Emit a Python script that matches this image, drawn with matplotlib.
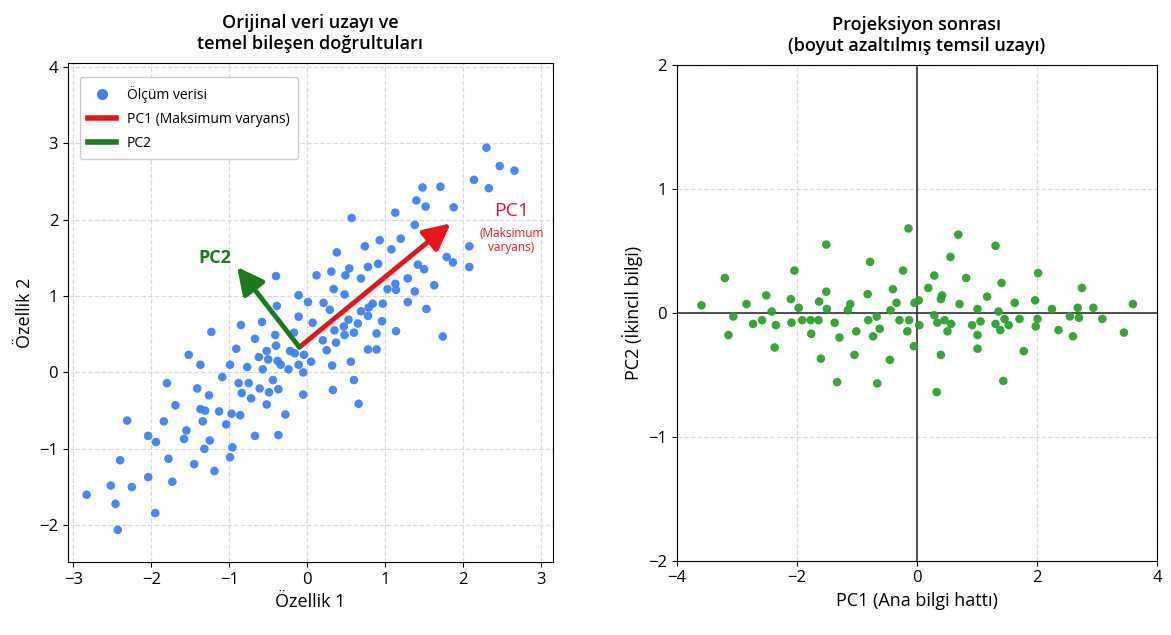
import matplotlib
matplotlib.use("Agg")
import numpy as np
import matplotlib.pyplot as plt
from matplotlib.lines import Line2D

plt.rcParams['font.family'] = ['Open Sans', 'Noto Sans', 'DejaVu Sans']

# orijinal veri (Özellik 1, Özellik 2)
orig_x = [-2.83, -2.52, -2.46, -2.43, -2.25, -2.40, -2.31, -2.04, -1.95, -2.04,
          -1.94, -1.78, -1.73, -1.84, -1.80, -1.69, -1.52, -1.37, -1.41, -1.26,
          -1.37, -1.31, -1.34, -1.55, -1.58, -1.25, -1.32, -1.45, -1.19, -1.13,
          -1.09, -1.23, -1.04, -0.97, -0.86, -0.96, -0.99, -0.99, -0.91, -0.88,
          -0.84, -0.75, -0.72, -0.77, -0.85, -0.67, -0.58, -0.62, -0.57, -0.52,
          -0.50, -0.61, -0.49, -0.52, -0.44, -0.37, -0.67, -0.37, -0.28, -0.39,
          -0.41, -0.40, -0.38, -0.34, -0.24, -0.22, -0.17, -0.16, -0.11, 0.01,
          -0.11, 0.07, -0.11, -0.04, -0.05, 0.05, -0.05,
          2.30, 2.47, 2.66, 2.14, 2.33, 1.48, 1.71, 1.40, 1.52, 1.88,
          1.13, 0.57, 1.38, 2.08, 1.79, 1.87, 2.08, 1.20, 0.93, 1.08,
          0.74, 0.38, 1.42, 1.50, 0.91, 0.78, 0.54, 0.49, 0.31, 0.12,
          0.69, 1.29, 1.13, 1.03, 1.14, 1.38, 1.63, 0.34, 0.48, -0.40,
          0.21, 0.29, 1.29, 1.53, 0.84, 0.97, 0.69, 0.79, 0.96, 1.14,
          0.89, 0.78, 0.65, 0.53, 0.47, 0.35, 0.60, 0.48, 1.74, 0.78,
          0.89, 0.37, 0.20, 0.25, 0.32, 0.56, 0.60, 0.33, 0.66]
orig_y = [-1.60, -1.48, -1.72, -2.06, -1.50, -1.15, -0.63, -1.37, -1.84, -0.83,
          -0.91, -1.13, -1.43, -0.64, -0.14, -0.43, 0.23, 0.10, -0.21, -0.30,
          -0.48, -0.50, -0.64, -0.76, -0.87, -0.89, -1.00, -1.20, -1.29, -0.51,
          -0.06, 0.53, -0.68, -0.54, -0.56, -0.98, -1.11, 0.10, 0.31, -0.14,
          -0.27, -0.14, -0.34, 0.07, 0.62, 0.44, 0.66, 0.20, 0.04, 0.28,
          0.17, -0.21, -0.26, -0.42, -0.10, -0.22, -0.83, -0.82, -0.55, 0.87,
          0.49, 0.35, 0.15, 0.10, 0.04, 0.28, 0.52, 0.25, 1.01, 0.92,
          0.73, 0.65, 0.10, 0.23, 0.00, 0.14, -0.29,
          2.94, 2.70, 2.64, 2.52, 2.41, 2.42, 2.43, 2.25, 2.17, 2.16,
          2.09, 2.02, 1.93, 1.65, 1.51, 1.44, 1.38, 1.75, 1.73, 1.61,
          1.65, 1.57, 1.41, 1.35, 1.42, 1.38, 1.36, 1.27, 1.32, 1.27,
          1.23, 1.23, 1.16, 1.09, 1.08, 1.06, 1.14, 1.09, 1.02, 1.26,
          0.91, 0.82, 0.92, 0.83, 0.90, 0.90, 0.80, 0.85, 0.67, 0.54,
          0.51, 0.74, 0.64, 0.69, 0.60, 0.55, 0.52, 0.49, 0.47, 0.30,
          0.30, 0.39, 0.42, 0.29, 0.09, 0.14, -0.10, -0.23, -0.41]

# ortalama ve temel bileşen yönleri
mean_pt = (-0.10, 0.33)
pc1_vec = (1.94, 1.62)
pc2_vec = (-0.80, 1.05)

# projeksiyon sonrası (PC1, PC2)
proj_pc1 = [-3.59, -3.20, -3.06, -3.14, -2.84, -2.73, -2.58, -2.51, -2.42, -2.35,
            -2.37, -2.10, -2.09, -2.04, -1.97, -1.91, -1.77, -1.76, -1.64, -1.63,
            -1.60, -1.51, -1.51, -1.50, -1.37, -1.33, -1.29, -1.15, -1.11, -1.04,
            -1.01, -0.82, -0.81, -0.78, -0.73, -0.67, -0.66, -0.62, -0.45, -0.44,
            -0.40, -0.34, -0.29, -0.14, -0.23, -0.16, -0.13, -0.05, -0.04, 0.03,
            0.04, 0.19, 0.29, 0.29, 0.34, 0.40, 0.42, 0.40, 0.33, 0.46,
            0.51, 0.57, 0.56, 0.69, 0.71, 0.82, 0.92, 1.01, 1.01, 1.01,
            1.06, 1.17, 1.31, 1.31, 1.36, 1.39, 1.41, 1.46, 1.53, 1.44,
            1.63, 1.71, 1.78, 1.97, 1.98, 2.01, 2.02, 2.25, 2.36, 2.55,
            2.60, 2.68, 2.70, 2.75, 2.94, 3.09, 3.45, 3.60]
proj_pc2 = [0.06, 0.28, -0.03, -0.18, 0.07, -0.09, -0.06, 0.14, 0.01, -0.10,
            -0.28, 0.11, -0.08, 0.34, 0.04, -0.06, -0.06, -0.17, -0.06, 0.09,
            -0.37, 0.55, 0.17, 0.03, -0.08, -0.56, -0.20, 0.02, 0.07, -0.34,
            -0.15, 0.15, -0.06, 0.41, -0.19, -0.03, -0.57, -0.13, -0.38, 0.02,
            0.19, 0.08, -0.06, 0.68, 0.34, -0.15, -0.06, -0.27, 0.08, 0.10,
            -0.10, 0.20, 0.30, -0.02, -0.08, 0.11, 0.14, -0.34, -0.64, -0.06,
            -0.15, -0.09, 0.45, 0.63, 0.07, 0.28, -0.10, 0.03, -0.18, -0.29,
            -0.07, 0.13, 0.54, -0.09, 0.01, -0.14, 0.24, -0.05, -0.10, -0.55,
            0.08, -0.05, -0.31, 0.10, -0.11, -0.05, 0.32, 0.03, -0.14, -0.03,
            -0.19, 0.04, -0.04, 0.20, 0.04, -0.05, -0.16, 0.07]

blue = "#3b82f6"
red = "#e8141c"
green_arrow = "#1b7a1b"
green_pts = "#2ca02c"

fig = plt.figure(figsize=(11.71, 6.35), dpi=100)
ax1 = fig.add_axes([0.058, 0.115, 0.414, 0.786])
ax2 = fig.add_axes([0.578, 0.117, 0.410, 0.781])

# --- sol: orijinal uzay ---
ax1.scatter(orig_x, orig_y, s=38, color=blue, alpha=0.95, edgecolors='none', zorder=2)
for vec, col in [(pc1_vec, red), (pc2_vec, green_arrow)]:
    ax1.annotate("", xy=(mean_pt[0] + vec[0], mean_pt[1] + vec[1]), xytext=mean_pt,
                 arrowprops=dict(arrowstyle="-|>,head_width=0.5,head_length=1.0",
                                 lw=3.5, color=col, mutation_scale=16,
                                 shrinkA=0, shrinkB=0), zorder=4)
ax1.text(2.62, 2.11, "PC1", color=red, fontsize=14, ha='center', va='center')
ax1.text(2.62, 1.73, "(Maksimum\nvaryans)", color=red, fontsize=8.5, ha='center',
         va='center', linespacing=1.1)
ax1.text(-1.18, 1.50, "PC2", color=green_arrow, fontsize=13, fontweight='bold',
         ha='center', va='center')

ax1.set_xlim(-3.07, 3.15)
ax1.set_ylim(-2.48, 4.05)
ax1.set_xticks([-3, -2, -1, 0, 1, 2, 3])
ax1.set_yticks([-2, -1, 0, 1, 2, 3, 4])
ax1.grid(True, ls='--', color='#d9d9d9', lw=0.9)
ax1.set_axisbelow(True)
ax1.set_xlabel("Özellik 1", fontsize=13)
ax1.set_ylabel("Özellik 2", fontsize=13)
ax1.set_title("Orijinal veri uzayı ve\ntemel bileşen doğrultuları", fontsize=13,
              fontweight='semibold', pad=10)

handles = [Line2D([], [], marker='o', ls='none', color=blue, markersize=7),
           Line2D([], [], color=red, lw=4),
           Line2D([], [], color=green_arrow, lw=4)]
ax1.legend(handles, ["Ölçüm verisi", "PC1 (Maksimum varyans)", "PC2"],
           loc='upper left', bbox_to_anchor=(0.01, 0.985), fontsize=10,
           framealpha=1, edgecolor='#cccccc', borderpad=0.6, labelspacing=0.65)

# --- sağ: projeksiyon ---
ax2.axhline(0, color='#222222', lw=1.1, zorder=1)
ax2.axvline(0, color='#222222', lw=1.1, zorder=1)
ax2.scatter(proj_pc1, proj_pc2, s=38, color=green_pts, alpha=0.95, edgecolors='none', zorder=2)
ax2.set_xlim(-4, 4)
ax2.set_ylim(-2, 2)
ax2.set_xticks([-4, -2, 0, 2, 4])
ax2.set_yticks([-2, -1, 0, 1, 2])
ax2.grid(True, ls='--', color='#d9d9d9', lw=0.9)
ax2.set_axisbelow(True)
ax2.set_xlabel("PC1 (Ana bilgi hattı)", fontsize=13)
ax2.set_ylabel("PC2 (İkincil bilgi)", fontsize=13)
ax2.set_title("Projeksiyon sonrası\n(boyut azaltılmış temsil uzayı)", fontsize=13,
              fontweight='semibold', pad=10)

for ax in (ax1, ax2):
    ax.tick_params(labelsize=12)

fig.savefig("out.png", dpi=100)
